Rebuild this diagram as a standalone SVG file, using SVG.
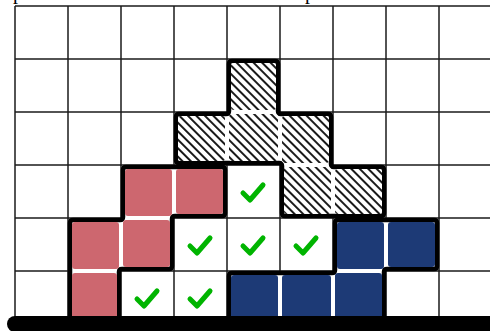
<svg xmlns="http://www.w3.org/2000/svg" width="490" height="331" viewBox="0 0 490 331">
<style>
.grid line{stroke:#1a1a1a;stroke-width:1.5}
.outline{fill:#fff;stroke:#000;stroke-width:4.5;stroke-linejoin:round}
.red{fill:#cd676f}
.blue{fill:#1d3a76}
.hatch{fill:url(#hatch)}
.chk{fill:none;stroke:#00b400;stroke-width:5;stroke-linecap:round;stroke-linejoin:round}
.top{font-family:"Liberation Serif",serif;font-size:20px;fill:#000}
</style>
<defs>
<pattern id="hatch" width="6" height="6" patternUnits="userSpaceOnUse" patternTransform="rotate(45)">
<rect width="6" height="6" fill="#fff"/>
<line x1="0" y1="3" x2="6" y2="3" stroke="#000" stroke-width="1.8"/>
</pattern>
<path id="check" d="M16,28 L23,35 L36,20"/>
</defs>
<rect width="490" height="331" fill="#fff"/>
<text class="top" x="13" y="-1">p</text>
<text class="top" x="305" y="-1">p</text>
<g id="grid" class="grid">
<line x1="15" y1="6" x2="490" y2="6"/>
<line x1="15" y1="59" x2="490" y2="59"/>
<line x1="15" y1="112" x2="490" y2="112"/>
<line x1="15" y1="165" x2="490" y2="165"/>
<line x1="15" y1="218" x2="490" y2="218"/>
<line x1="15" y1="271" x2="490" y2="271"/>
<line x1="15" y1="6" x2="15" y2="324"/>
<line x1="68" y1="6" x2="68" y2="324"/>
<line x1="121" y1="6" x2="121" y2="324"/>
<line x1="174" y1="6" x2="174" y2="324"/>
<line x1="227" y1="6" x2="227" y2="324"/>
<line x1="280" y1="6" x2="280" y2="324"/>
<line x1="333" y1="6" x2="333" y2="324"/>
<line x1="386" y1="6" x2="386" y2="324"/>
<line x1="439" y1="6" x2="439" y2="324"/>
</g>
<g id="hatched-piece">
<path class="outline" d="M232,61 H275 Q278,61 278,64 V111 Q278,114 281,114 H328 Q331,114 331,117 V164 Q331,167 334,167 H381 Q384,167 384,170 V213 Q384,216 381,216 H285 Q282,216 282,213 V166 Q282,163 279,163 H179 Q176,163 176,160 V117 Q176,114 179,114 H226 Q229,114 229,111 V64 Q229,61 232,61 Z"/>
<rect class="hatch" x="231" y="63" width="45" height="47" rx="3"/>
<rect class="hatch" x="178" y="116" width="47" height="45" rx="3"/>
<rect class="hatch" x="229" y="114" width="49" height="47" rx="3"/>
<rect class="hatch" x="282" y="116" width="47" height="47" rx="3"/>
<rect class="hatch" x="284" y="167" width="47" height="47" rx="3"/>
<rect class="hatch" x="335" y="169" width="47" height="45" rx="3"/>
</g>
<g id="red-piece">
<path class="outline" d="M126,167 H222 Q225,167 225,170 V213 Q225,216 222,216 H175 Q172,216 172,219 V266 Q172,269 169,269 H122 Q119,269 119,272 V319 Q119,322 116,322 H73 Q70,322 70,319 V223 Q70,220 73,220 H120 Q123,220 123,217 V170 Q123,167 126,167 Z"/>
<rect class="red" x="125" y="169" width="47" height="47" rx="3"/>
<rect class="red" x="176" y="169" width="47" height="45" rx="3"/>
<rect class="red" x="72" y="222" width="47" height="47" rx="3"/>
<rect class="red" x="123" y="220" width="47" height="47" rx="3"/>
<rect class="red" x="72" y="273" width="45" height="47" rx="3"/>
</g>
<g id="blue-piece">
<path class="outline" d="M338,220 H434 Q437,220 437,223 V266 Q437,269 434,269 H387 Q384,269 384,272 V319 Q384,322 381,322 H232 Q229,322 229,319 V276 Q229,273 232,273 H332 Q335,273 335,270 V223 Q335,220 338,220 Z"/>
<rect class="blue" x="337" y="222" width="47" height="47" rx="3"/>
<rect class="blue" x="388" y="222" width="47" height="45" rx="3"/>
<rect class="blue" x="231" y="275" width="47" height="45" rx="3"/>
<rect class="blue" x="282" y="275" width="49" height="45" rx="3"/>
<rect class="blue" x="335" y="273" width="47" height="47" rx="3"/>
</g>
<g id="checks" class="chk">
<use href="#check" transform="translate(227,165)"/>
<use href="#check" transform="translate(174,218)"/>
<use href="#check" transform="translate(227,218)"/>
<use href="#check" transform="translate(280,218)"/>
<use href="#check" transform="translate(121,271)"/>
<use href="#check" transform="translate(174,271)"/>
</g>
<g id="connectors">
<line x1="15" y1="324" x2="500" y2="324" stroke="#000" stroke-width="16" stroke-linecap="round"/>
</g>
</svg>
